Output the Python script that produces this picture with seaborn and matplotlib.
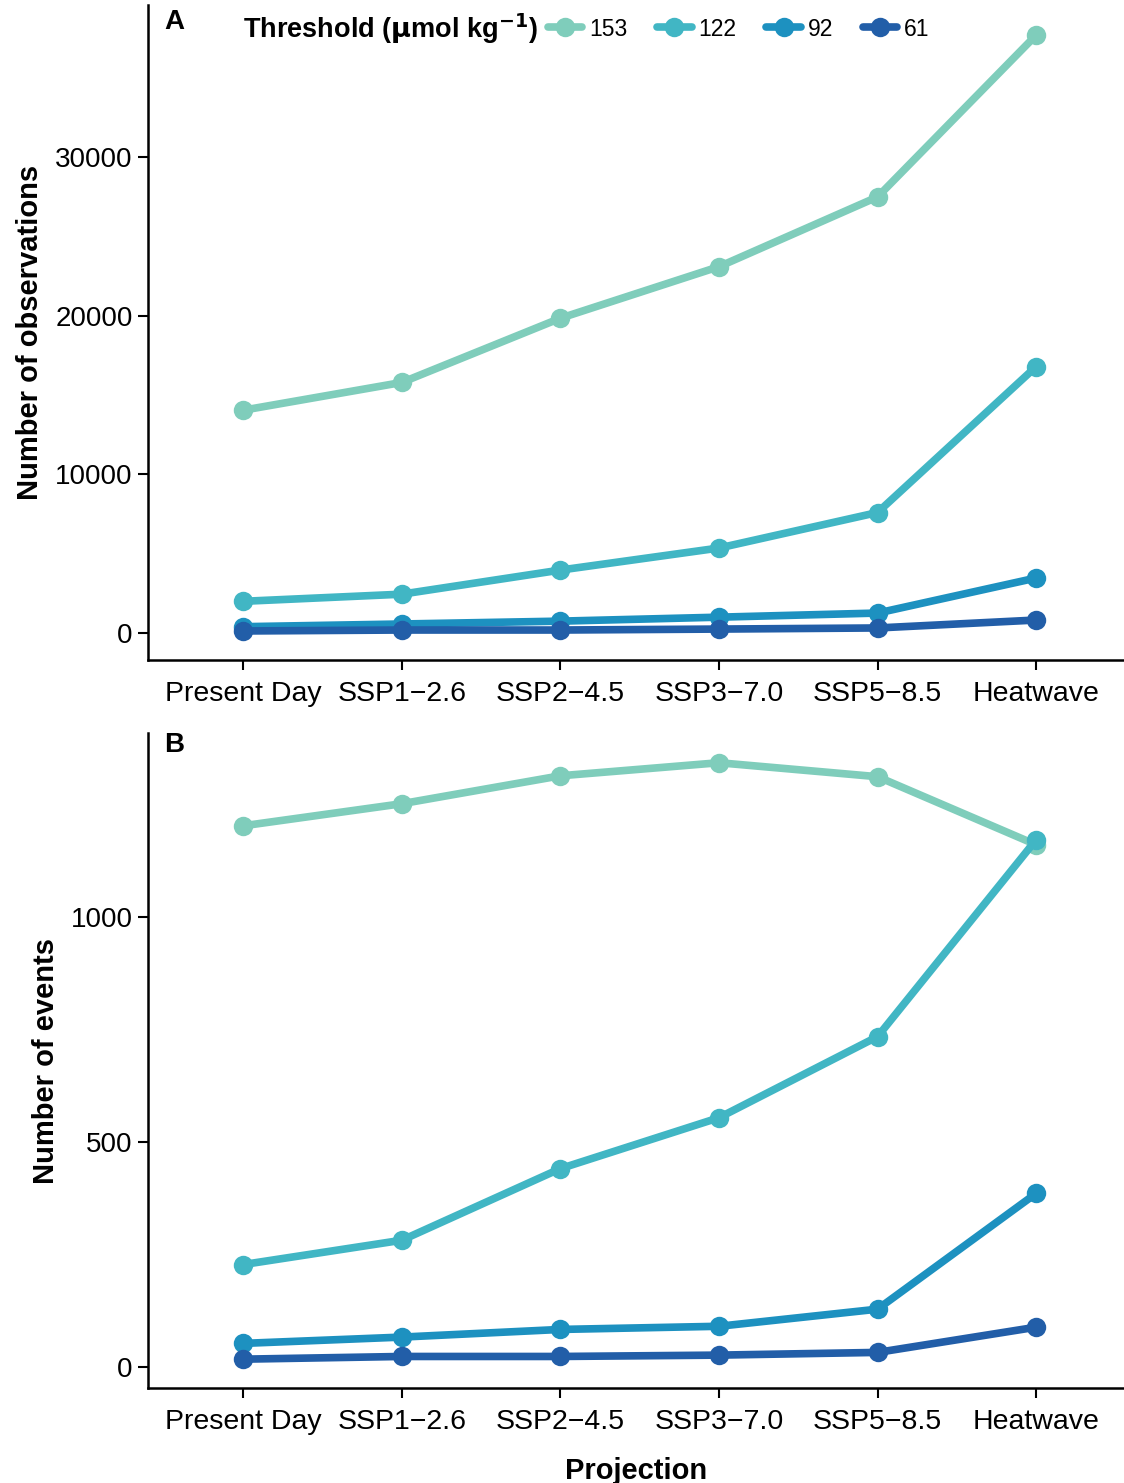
import matplotlib
matplotlib.use("Agg")
import matplotlib.pyplot as plt
import seaborn as sns
import pandas as pd
from matplotlib.lines import Line2D

projections = ["Present Day", "SSP1\u22122.6", "SSP2\u22124.5", "SSP3\u22127.0", "SSP5\u22128.5", "Heatwave"]
thresholds = ["153", "122", "92", "61"]
colors = ["#7fcdbb", "#41b6c4", "#1d91c0", "#225ea8"]

obs_153 = [14050, 15800, 19850, 23100, 27500, 37700]
obs_122 = [2000, 2450, 3970, 5360, 7600, 16800]
obs_92 = [400, 570, 750, 1000, 1260, 3470]
obs_61 = [130, 190, 190, 250, 320, 820]

evt_153 = [1202, 1251, 1313, 1342, 1311, 1160]
evt_122 = [228, 282, 441, 554, 734, 1171]
evt_92 = [53, 67, 84, 91, 129, 386]
evt_61 = [18, 24, 24, 27, 33, 89]


def make_df(series):
    rows = []
    for thr, vals in zip(thresholds, series):
        for i, (p, v) in enumerate(zip(projections, vals)):
            rows.append({"pos": i, "Projection": p, "Threshold": thr, "value": v})
    return pd.DataFrame(rows)


df_obs = make_df([obs_153, obs_122, obs_92, obs_61])
df_evt = make_df([evt_153, evt_122, evt_92, evt_61])

sns.set_theme(style="ticks")
plt.rcParams["font.family"] = ["Liberation Sans", "DejaVu Sans"]
plt.rcParams["text.color"] = "black"
plt.rcParams["axes.labelcolor"] = "black"
plt.rcParams["xtick.color"] = "black"
plt.rcParams["ytick.color"] = "black"

fig = plt.figure(figsize=(11.24, 14.83), dpi=100)
W, H = 1124, 1483
axA = fig.add_axes([148 / W, 1 - 660 / H, (1124 - 148) / W, (660 - 5) / H])
axB = fig.add_axes([148 / W, 1 - 1388 / H, (1124 - 148) / W, (1388 - 733) / H])

palette = dict(zip(thresholds, colors))

for ax, df, ylabel, ylim, yticks in [
    (axA, df_obs, "Number of observations", (-1700, 39600), [0, 10000, 20000, 30000]),
    (axB, df_evt, "Number of events", (-46, 1408), [0, 500, 1000]),
]:
    sns.lineplot(data=df, x="pos", y="value", hue="Threshold", hue_order=thresholds,
                 palette=palette, marker="o", markersize=14, markeredgewidth=0,
                 linewidth=5.5, ax=ax, legend=False, sort=False)
    ax.set_xlim(-0.6, 5.554)
    ax.set_ylim(*ylim)
    ax.set_yticks(yticks)
    ax.set_yticklabels([str(t) for t in yticks])
    ax.set_xticks(range(len(projections)))
    ax.set_xticklabels(projections)
    ax.tick_params(axis="y", labelsize=20, length=7, width=1.5, pad=4)
    ax.tick_params(axis="x", labelsize=20.5, length=7, width=1.5, pad=8)
    for s in ["top", "right"]:
        ax.spines[s].set_visible(False)
    for s in ["left", "bottom"]:
        ax.spines[s].set_linewidth(1.8)
        ax.spines[s].set_color("black")
    ax.set_ylabel(ylabel, fontsize=21, fontweight="bold", labelpad=8)
    ax.set_xlabel("")

axB.set_xlabel("Projection", fontsize=21, fontweight="bold", labelpad=16)

fig.text(164 / W, 1 - 22 / H, "A", fontsize=20, fontweight="bold", va="center", ha="left")
fig.text(164 / W, 1 - 745 / H, "B", fontsize=20, fontweight="bold", va="center", ha="left")

fig.text(243 / W, 1 - 29 / H, "Threshold ($\\mathbf{\\mu}$mol kg$^{\\mathbf{-1}}$)", fontsize=19.5,
         fontweight="bold", va="center", ha="left")

handles = [Line2D([0], [0], color=c, linewidth=5.5, marker="o", markersize=14, markeredgewidth=0)
           for c in colors]
axA.legend(handles, thresholds, ncol=4, loc="center left", bbox_to_anchor=(548 / W, 1 - 29 / H),
           bbox_transform=fig.transFigure, frameon=False, fontsize=16.5, handlelength=1.5,
           handletextpad=0.3, columnspacing=1.3, borderaxespad=0, borderpad=0)

fig.savefig("out.png", dpi=100)
